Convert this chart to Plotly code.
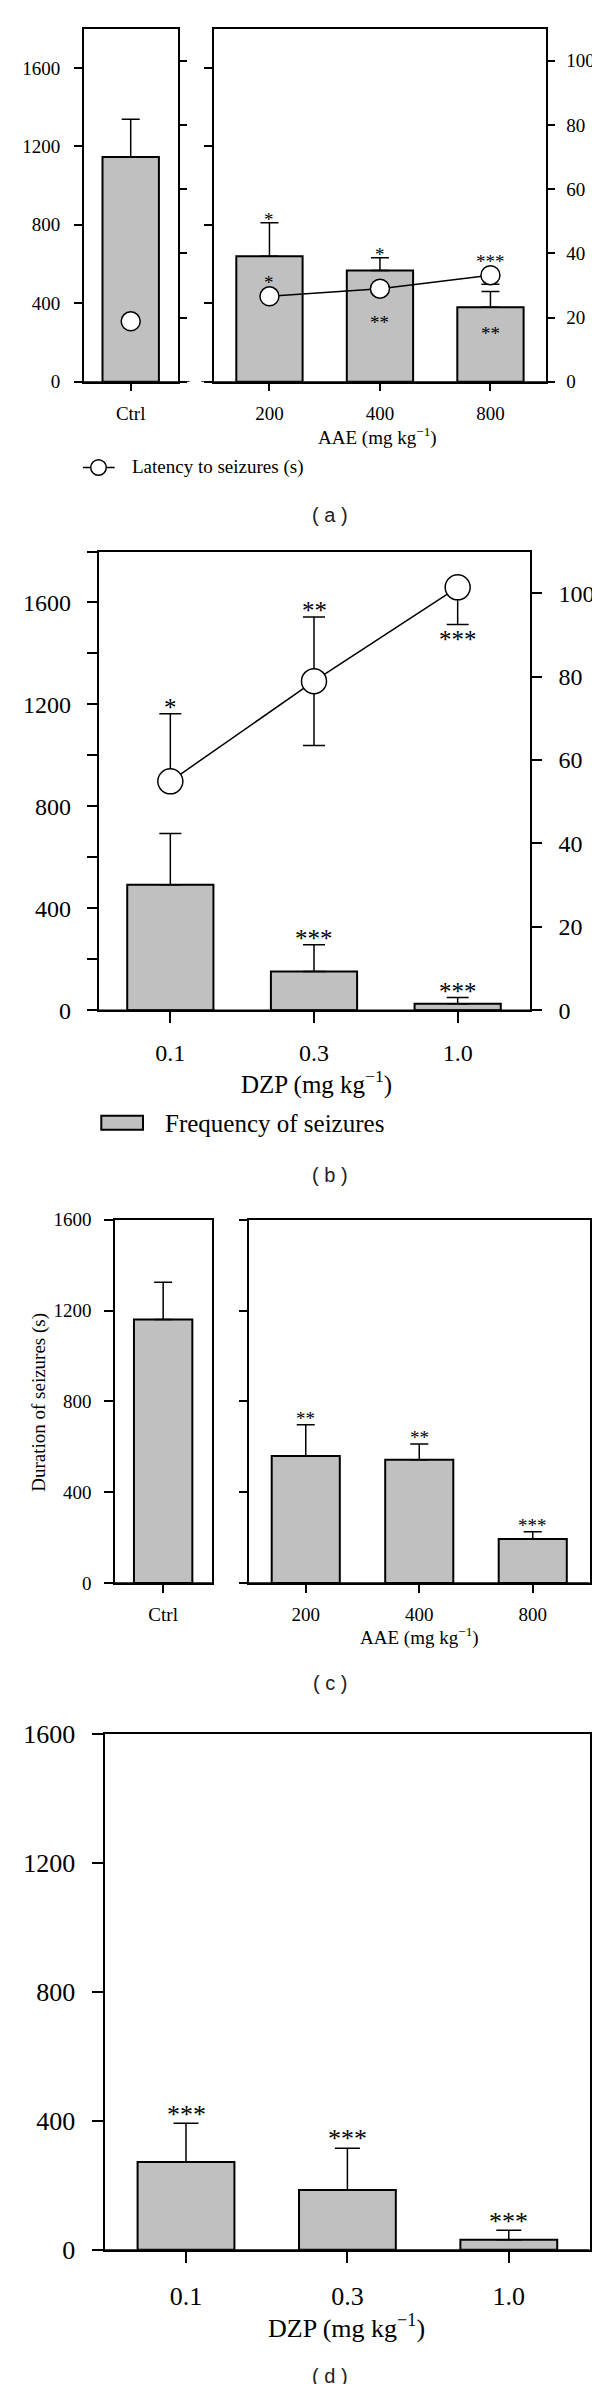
import plotly.graph_objects as go

# ---------------- data ----------------
# (a) AAE: frequency of seizures (bars, left axis) and latency to seizures (circles, right axis)
a_ctrl_cat = ["Ctrl"]
a_ctrl_freq = [1146]
a_ctrl_freq_err = [192]
a_ctrl_latency = [18.8]
a_doses = ["200", "400", "800"]
a_freq = [640, 567, 380]
a_freq_err = [170, 65, 80]
a_latency = [26.6, 29.0, 33.2]
a_latency_err_minus = [0, 0, 2.8]
a_freq_sig_above = ["*", "*", ""]
a_freq_sig_inside = ["", "", "**"]
a_latency_sig_above = ["*", "", "***"]
a_latency_sig_below = ["", "**", ""]

# (b) DZP
b_doses = ["0.1", "0.3", "1.0"]
b_freq = [493, 152, 26]
b_freq_err = [201, 105, 24]
b_latency = [54.9, 78.9, 101.4]
b_latency_err_plus = [16.2, 15.4, 0]
b_latency_err_minus = [0, 15.4, 8.9]
b_freq_sig = ["", "***", "***"]
b_latency_sig_above = ["*", "**", ""]
b_latency_sig_below = ["", "", "***"]

# (c) AAE: duration of seizures
c_ctrl_cat = ["Ctrl"]
c_ctrl_dur = [1160]
c_ctrl_dur_err = [165]
c_doses = ["200", "400", "800"]
c_dur = [559, 543, 194]
c_dur_err = [138, 69, 32]
c_sig = ["**", "**", "***"]

# (d) DZP: duration of seizures
d_doses = ["0.1", "0.3", "1.0"]
d_dur = [272, 185, 31]
d_dur_err = [120, 130, 29]
d_sig = ["***", "***", "***"]

# ticks
ticks_400 = [0, 400, 800, 1200, 1600]
ticks_right = [0, 20, 40, 60, 80, 100]

# ---------------- style ----------------
W, H = 600, 2384
SERIF = "Liberation Serif"
SANS = "Liberation Sans"
BAR_FILL = "#c0c0c0"
LW = 1.5


def fx(p):
    return p / W


def fy(p):
    return 1 - p / H


fig = go.Figure()


def add_bars(x, y, err, xa, ya, cap):
    fig.add_trace(go.Bar(
        x=x, y=y, width=0.6, xaxis=xa, yaxis=ya, showlegend=False,
        marker=dict(color=BAR_FILL, line=dict(color="black", width=2)),
        error_y=dict(type="data", symmetric=False, array=err, arrayminus=[0] * len(err),
                     color="black", thickness=LW, width=cap)))


def add_points(x, y, xa, ya, size, plus=None, minus=None, cap=9, line=True):
    err = None
    if plus is not None or minus is not None:
        err = dict(type="data", symmetric=False,
                   array=plus if plus is not None else [0] * len(y),
                   arrayminus=minus if minus is not None else [0] * len(y),
                   color="black", thickness=LW, width=cap)
    fig.add_trace(go.Scatter(
        x=x, y=y, xaxis=xa, yaxis=ya, showlegend=False,
        mode="lines+markers" if line else "markers",
        line=dict(color="black", width=LW),
        marker=dict(size=size, color="white", line=dict(color="black", width=LW)),
        error_y=err))


# panel a
add_bars(a_ctrl_cat, a_ctrl_freq, a_ctrl_freq_err, "x", "y", 9)
add_points(a_ctrl_cat, a_ctrl_latency, "x", "y2", 19, line=False)
add_bars(a_doses, a_freq, a_freq_err, "x2", "y3", 9)
add_points(a_doses, a_latency, "x2", "y4", 19, minus=a_latency_err_minus, cap=9)
# panel b
add_bars(b_doses, b_freq, b_freq_err, "x3", "y5", 11)
add_points(b_doses, b_latency, "x3", "y6", 25, plus=b_latency_err_plus,
           minus=b_latency_err_minus, cap=11)
# panel c
add_bars(c_ctrl_cat, c_ctrl_dur, c_ctrl_dur_err, "x4", "y7", 9)
add_bars(c_doses, c_dur, c_dur_err, "x5", "y8", 9)
# panel d
add_bars(d_doses, d_dur, d_dur_err, "x6", "y9", 12.5)


def xaxis(domain, anchor, n, ticklen, fs, standoff):
    return dict(domain=[fx(domain[0]), fx(domain[1])], anchor=anchor, type="category",
                range=[-0.5, n - 0.5], showline=True, mirror=True, linecolor="black",
                linewidth=LW, ticks="outside", ticklen=ticklen, tickwidth=LW,
                tickcolor="black", showgrid=False, zeroline=False, automargin=False,
                tickfont=dict(family=SERIF, size=fs, color="black"),
                ticklabelstandoff=standoff, fixedrange=True)


def yaxis(domain, anchor, rng, tickvals, labels=True, side="left",
          ticklen=8, fs=19, standoff=8, overlaying=None, mirror=False, minor_dtick=None):
    d = dict(anchor=anchor, range=rng, tickmode="array", tickvals=tickvals,
             showticklabels=labels, side=side, showline=True, mirror=mirror,
             linecolor="black", linewidth=LW, ticks="outside", ticklen=ticklen,
             tickwidth=LW, tickcolor="black", showgrid=False, zeroline=False,
             automargin=False, tickfont=dict(family=SERIF, size=fs, color="black"),
             ticklabelstandoff=standoff, fixedrange=True)
    if minor_dtick:
        d["minor"] = dict(ticks="outside", ticklen=ticklen, tickwidth=LW,
                          tickcolor="black", tick0=0, dtick=minor_dtick, showgrid=False)
    if overlaying:
        d["overlaying"] = overlaying
    else:
        d["domain"] = [fy(domain[1]), fy(domain[0])]
    return d


A_Y = (20.7, 373.7)
B_Y = (543.5, 1002.3)
C_Y = (1211.7, 1575)
D_Y = (1726, 2241.7)

layout = dict(
    width=W, height=H, autosize=False, template="none",
    margin=dict(l=0, r=0, t=0, b=0),
    paper_bgcolor="white", plot_bgcolor="white", showlegend=False,
    xaxis=xaxis((75.7, 169.7), "y", 1, 8, 19, 6),
    yaxis=yaxis(A_Y, "x", [0, 1800], ticks_400, fs=19, standoff=10),
    yaxis2=yaxis(A_Y, "x", [0, 110], ticks_right, labels=False, side="right",
                 overlaying="y"),
    xaxis2=xaxis((206.2, 537.7), "y3", 3, 8, 19, 6),
    yaxis3=yaxis(A_Y, "x2", [0, 1800], ticks_400, labels=False),
    yaxis4=yaxis(A_Y, "x2", [0, 110], ticks_right, side="right", overlaying="y3",
                 fs=19, standoff=7),
    xaxis3=xaxis((90.5, 521.5), "y5", 3, 10.5, 24, 10),
    yaxis5=yaxis(B_Y, "x3", [0, 1800], ticks_400, ticklen=10, fs=24, standoff=11,
                 minor_dtick=200),
    yaxis6=yaxis(B_Y, "x3", [0, 110], ticks_right, side="right", overlaying="y5",
                 ticklen=10.5, fs=24, standoff=12),
    xaxis4=xaxis((106.5, 203.8), "y7", 1, 8, 19, 5),
    yaxis7=yaxis(C_Y, "x4", [0, 1600], ticks_400, ticklen=8.5, fs=19, standoff=9,
                 mirror=True),
    xaxis5=xaxis((241, 581.5), "y8", 3, 8, 19, 5),
    yaxis8=yaxis(C_Y, "x5", [0, 1600], ticks_400, labels=False, ticklen=8.5,
                 mirror=True),
    xaxis6=xaxis((97.3, 581.5), "y9", 3, 12, 26, 10),
    yaxis9=yaxis(D_Y, "x6", [0, 1600], ticks_400, ticklen=12, fs=26, standoff=11,
                 mirror=True),
)
fig.update_layout(**layout)

shapes = []
# extended baselines
for x0, x1, yr in [(67.3, 181.7, "y"), (193.3, 546, "y3"), (80, 532, "y5"),
                   (98, 203.8, "y7"), (232.7, 581.5, "y8"), (85.4, 581.5, "y9")]:
    shapes.append(dict(type="line", xref="paper", yref=yr, x0=fx(x0), x1=fx(x1),
                       y0=0, y1=0, line=dict(color="black", width=LW)))
# legend (a): line + circle
shapes.append(dict(type="line", xref="paper", yref="paper", x0=fx(75), x1=fx(106.7),
                   y0=fy(459.5), y1=fy(459.5), line=dict(color="black", width=LW)))
shapes.append(dict(type="circle", xref="paper", yref="paper", x0=fx(90.5 - 7.8),
                   x1=fx(90.5 + 7.8), y0=fy(459.5 + 7.8), y1=fy(459.5 - 7.8),
                   fillcolor="white", line=dict(color="black", width=LW)))
# legend (b): grey box
shapes.append(dict(type="rect", xref="paper", yref="paper", x0=fx(93.3), x1=fx(135),
                   y0=fy(1121.7), y1=fy(1107.7), fillcolor=BAR_FILL,
                   line=dict(color="black", width=2)))
fig.update_layout(shapes=shapes)

ann = []


def txt(x, y, text, size, family=SERIF, color="black", xanchor="center", angle=0):
    ann.append(dict(xref="paper", yref="paper", x=fx(x), y=fy(y), text=text,
                    showarrow=False, xanchor=xanchor, yanchor="middle", textangle=angle,
                    font=dict(family=family, size=size, color=color)))


def stars(xa, ya, labels, values, shift, size):
    for i, (lab, v) in enumerate(zip(labels, values)):
        if lab:
            ann.append(dict(xref=xa, yref=ya, x=i, y=v, text=lab, showarrow=False,
                            xanchor="center", yanchor="middle", yshift=shift - 0.18 * size,
                            font=dict(family=SERIF, size=size, color="black")))


# significance marks
stars("x2", "y3", a_freq_sig_above, [v + e for v, e in zip(a_freq, a_freq_err)], 7, 19)
stars("x2", "y3", a_freq_sig_inside, a_freq, -23, 19)
stars("x2", "y4", a_latency_sig_above, a_latency, 17, 19)
stars("x2", "y4", a_latency_sig_below, a_latency, -30, 19)
stars("x3", "y5", b_freq_sig, [v + e for v, e in zip(b_freq, b_freq_err)], 11, 25)
stars("x3", "y6", b_latency_sig_above,
      [v + e for v, e in zip(b_latency, b_latency_err_plus)], 11, 25)
stars("x3", "y6", b_latency_sig_below,
      [v - e for v, e in zip(b_latency, b_latency_err_minus)], -11, 25)
stars("x5", "y8", c_sig, [v + e for v, e in zip(c_dur, c_dur_err)], 9.5, 19)
stars("x6", "y9", d_sig, [v + e for v, e in zip(d_dur, d_dur_err)], 14, 26)

# axis titles
txt(369, 428, "AAE (mg kg<sup>−1</sup>)", 19)
txt(308, 1074, "DZP (mg kg<sup>−1</sup>)", 25)
txt(30.8, 1394, "Duration of seizures (s)", 19, angle=-90)
txt(411.5, 1628, "AAE (mg kg<sup>−1</sup>)", 19)
txt(338.5, 2318, "DZP (mg kg<sup>−1</sup>)", 26)
# legends
txt(121.7, 459.5, "Latency to seizures (s)", 19, xanchor="left")
txt(154.6, 1115, "Frequency of seizures", 25, xanchor="left")
# panel labels
for lab, y in [("a", 507.3), ("b", 1166.7), ("c", 1675), ("d", 2368)]:
    txt(322, y, "( " + lab + " )", 20, family=SANS, color="#222222")

fig.update_layout(annotations=ann)
fig.write_html("out.html")
